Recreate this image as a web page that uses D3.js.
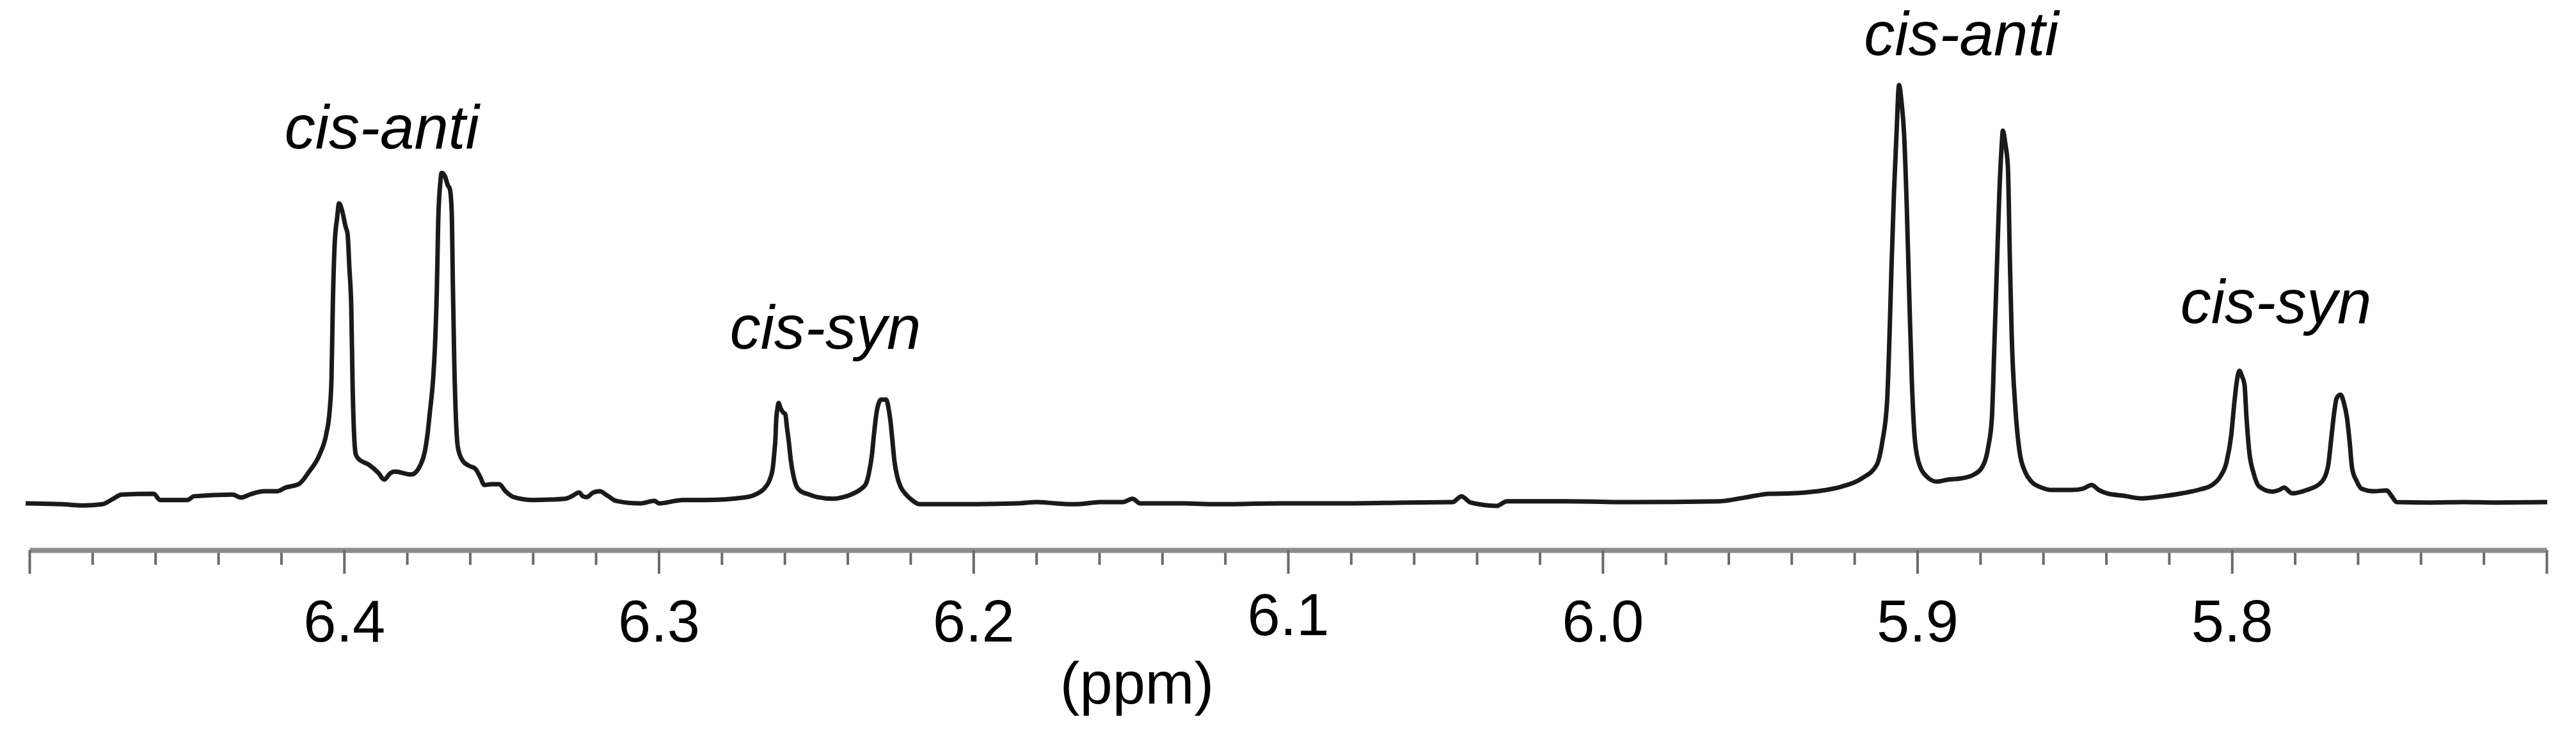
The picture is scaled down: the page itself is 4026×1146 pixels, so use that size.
<!DOCTYPE html>
<html>
<head>
<meta charset="utf-8">
<script src="https://cdn.jsdelivr.net/npm/d3@7"></script>
<style>
  body { margin: 0; background: #fff; }
  svg { display: block; }
</style>
</head>
<body>
<script>
// page size
var width = 4026,
    height = 1146;

// chemical shift (ppm) of each point
var shift = [
  6.5012, 6.4896, 6.4829, 6.4768, 6.4734, 6.4707, 6.4605, 6.4585, 6.4498, 6.4477,
  6.4355, 6.4327, 6.4300, 6.4254, 6.4213, 6.4185, 6.4144, 6.4111, 6.4077, 6.4056,
  6.4046, 6.4040, 6.4036, 6.4030, 6.4022, 6.4016, 6.4006, 6.3995, 6.3989, 6.3983,
  6.3977, 6.3973, 6.3967, 6.3963, 6.3955, 6.3920, 6.3890, 6.3873, 6.3853, 6.3839,
  6.3786, 6.3757, 6.3743, 6.3735, 6.3727, 6.3717, 6.3711, 6.3705, 6.3701, 6.3694,
  6.3690, 6.3680, 6.3670, 6.3664, 6.3658, 6.3654, 6.3650, 6.3644, 6.3638, 6.3623,
  6.3603, 6.3583, 6.3568, 6.3554, 6.3532, 6.3507, 6.3487, 6.3461, 6.3400, 6.3345,
  6.3298, 6.3274, 6.3253, 6.3241, 6.3229, 6.3208, 6.3188, 6.3162, 6.3135, 6.3060,
  6.3013, 6.2999, 6.2924, 6.2857, 6.2720, 6.2688, 6.2663, 6.2647, 6.2637, 6.2633,
  6.2629, 6.2627, 6.2623, 6.2619, 6.2613, 6.2604, 6.2598, 6.2592, 6.2586, 6.2580,
  6.2572, 6.2562, 6.2552, 6.2521, 6.2497, 6.2444, 6.2413, 6.2389, 6.2358, 6.2342,
  6.2332, 6.2322, 6.2316, 6.2307, 6.2299, 6.2293, 6.2277, 6.2269, 6.2263, 6.2257,
  6.2251, 6.2242, 6.2232, 6.2216, 6.2200, 6.2171, 6.2043, 6.1860, 6.1799, 6.1738,
  6.1677, 6.1596, 6.1525, 6.1494, 6.1470, 6.1331, 6.1230, 6.1026, 6.0823, 6.0620,
  6.0477, 6.0449, 6.0420, 6.0337, 6.0304, 6.0111, 5.9908, 5.9629, 5.9548, 5.9469,
  5.9399, 5.9318, 5.9241, 5.9176, 5.9129, 5.9111, 5.9096, 5.9088, 5.9082, 5.9074,
  5.9066, 5.9058, 5.9050, 5.9042, 5.9033, 5.9025, 5.9017, 5.9009, 5.8997, 5.8970,
  5.8938, 5.8901, 5.8858, 5.8820, 5.8796, 5.8775, 5.8763, 5.8755, 5.8747, 5.8739,
  5.8732, 5.8728, 5.8720, 5.8712, 5.8706, 5.8700, 5.8688, 5.8675, 5.8657, 5.8637,
  5.8606, 5.8572, 5.8509, 5.8474, 5.8446, 5.8423, 5.8397, 5.8342, 5.8287, 5.8220,
  5.8159, 5.8098, 5.8063, 5.8037, 5.8017, 5.8002, 5.7992, 5.7984, 5.7976, 5.7968,
  5.7960, 5.7954, 5.7945, 5.7931, 5.7913, 5.7872, 5.7850, 5.7834, 5.7819, 5.7809,
  5.7762, 5.7714, 5.7695, 5.7683, 5.7675, 5.7667, 5.7655, 5.7644, 5.7634, 5.7626,
  5.7618, 5.7604, 5.7588, 5.7549, 5.7508, 5.7492, 5.7476, 5.7366, 5.7264, 5.7162,
  5.6998
];

// signal intensity (tallest peak = 100)
var intensity = [
  0, -0.2, -0.5, -0.2, 1.1, 2.1, 2.3, 0.8, 0.8, 1.7,
  2.1, 1.4, 2.1, 2.9, 2.9, 3.8, 4.6, 7.6, 11.8, 16.8,
  22.0, 29.7, 46.5, 61.8, 68.3, 71.7, 69.9, 66.1, 64.5, 56.1,
  46.5, 28.6, 14.8, 11.8, 10.7, 9.2, 7.2, 5.7, 7.2, 7.6,
  6.9, 9.2, 12.5, 16.4, 22.0, 29.7, 37.8, 51.5, 66.8, 76.8,
  79.0, 78.3, 76.0, 75.2, 69.9, 51.5, 34.7, 19.4, 13.3, 10.2,
  9.0, 8.3, 6.4, 4.4, 4.6, 4.6, 2.9, 1.5, 0.8, 0.9,
  1.1, 1.8, 2.6, 1.7, 1.5, 2.6, 2.9, 1.8, 0.6, 0,
  0.6, 0, 0.8, 0.8, 1.5, 2.3, 3.7, 5.7, 8.7, 11.8,
  15.6, 19.4, 22.5, 24.0, 22.8, 21.7, 21.4, 17.9, 14.4, 10.2,
  6.7, 4.1, 3.1, 2.1, 1.5, 1.1, 1.5, 2.1, 3.4, 4.6,
  7.2, 11.8, 16.4, 22.0, 24.3, 24.8, 24.8, 22.5, 19.4, 14.8,
  10.2, 6.4, 4.1, 2.3, 1.1, -0.2, -0.2, 0, 0.3, 0,
  -0.2, 0.3, 0.3, 1.1, 0, 0, -0.2, 0, 0, 0.2,
  0.3, 1.7, 0.2, -0.6, 0.5, 0.5, 0.3, 0.5, 1.4, 2.3,
  2.4, 2.9, 4.0, 6.0, 9.2, 14.8, 24.3, 40.8, 56.4, 74.5,
  88.4, 100.0, 95.9, 88.4, 69.9, 48.3, 28.6, 16.4, 10.2, 6.4,
  5.2, 5.7, 6.0, 6.9, 8.4, 13.3, 20.3, 37.8, 56.4, 74.5,
  85.2, 89.1, 85.9, 80.4, 59.2, 40.4, 22.5, 12.4, 7.5, 5.2,
  3.8, 3.2, 3.2, 3.5, 4.4, 3.2, 2.4, 1.8, 1.2, 1.7,
  2.4, 3.4, 4.4, 6.4, 9.9, 16.4, 24.3, 29.4, 31.7, 30.4,
  28.4, 20.9, 12.4, 7.2, 4.0, 2.8, 3.2, 3.8, 2.9, 2.4,
  3.2, 5.2, 8.7, 16.4, 21.7, 25.2, 26.0, 24.0, 20.3, 14.8,
  8.4, 5.4, 3.5, 2.9, 3.1, 1.7, 0.3, 0.2, 0.3, 0.2,
  0.3
];

// axis ticks
var majorTicks = [6.5, 6.4, 6.3, 6.2, 6.1, 6.0, 5.9, 5.8, 5.7];
var tickLabels = ["", "6.4", "6.3", "6.2", "6.1", "6.0", "5.9", "5.8", ""];
var minorStep = 0.02;

// peak annotations (placed in ppm / intensity units)
var peakLabels = ["cis-anti", "cis-syn", "cis-anti", "cis-syn"];
var labelShift = [6.388, 6.247, 5.886, 5.786];
var labelHeight = [84.9, 37.0, 107.2, 43.1];

var axisTitle = "(ppm)";
var axisTitleShift = 6.148;

var font = "'Liberation Sans', Arial, Helvetica, sans-serif";

// scales: ppm runs right to left
var x = d3.scaleLinear()
    .domain([6.5, 5.7])
    .range([46, 3980]);

var y = d3.scaleLinear()
    .domain([0, 100])
    .range([787, 133]);

var axisY = 860;

var svg = d3.select('body')
    .append('svg')
    .attr('width', width)
    .attr('height', height);

// the trace
var points = shift.map(function(d, i) { return [d, intensity[i]]; });

var line = d3.line()
    .x(function(d) { return x(d[0]); })
    .y(function(d) { return y(d[1]); })
    .curve(d3.curveMonotoneX);

svg.append('path')
    .datum(points)
    .attr('d', line)
    .attr('fill', 'none')
    .attr('stroke', '#1a1a1a')
    .attr('stroke-width', 7)
    .attr('stroke-linejoin', 'round');

// minor ticks every 0.02 ppm, skipping the labelled ones
var minorTicks = d3.range(0, 41)
    .filter(function(i) { return i % 5 !== 0; })
    .map(function(i) { return +(6.5 - i * minorStep).toFixed(2); });

var minorAxis = d3.axisBottom(x)
    .tickValues(minorTicks)
    .tickSize(23)
    .tickSizeOuter(0)
    .tickFormat('');

var majorAxis = d3.axisBottom(x)
    .tickValues(majorTicks)
    .tickSize(37)
    .tickSizeOuter(0)
    .tickPadding(41)
    .tickFormat(function(d, i) { return tickLabels[i]; });

var gMinor = svg.append('g')
    .attr('transform', 'translate(0,' + axisY + ')')
    .call(minorAxis);

var gMajor = svg.append('g')
    .attr('transform', 'translate(0,' + axisY + ')')
    .call(majorAxis)
    .attr('font-size', 92)
    .attr('font-family', font);

gMinor.select('.domain').remove();
gMajor.select('.domain')
    .attr('stroke', '#8c8c8c')
    .attr('stroke-width', 8);

svg.selectAll('.tick line')
    .attr('stroke', '#6a6a6a')
    .attr('stroke-width', 4);

gMajor.selectAll('.tick text')
    .attr('fill', '#000')
    .attr('y', function(d) { return d === 6.1 ? 68 : 78; });

// axis title
svg.append('text')
    .attr('x', x(axisTitleShift))
    .attr('y', 1100)
    .attr('text-anchor', 'middle')
    .attr('font-family', font)
    .attr('font-size', 92)
    .attr('fill', '#000')
    .text(axisTitle);

// peak labels
svg.selectAll('.peak-label')
    .data(peakLabels)
    .enter().append('text')
    .attr('class', 'peak-label')
    .attr('x', function(d, i) { return x(labelShift[i]); })
    .attr('y', function(d, i) { return y(labelHeight[i]); })
    .attr('text-anchor', 'middle')
    .attr('font-family', font)
    .attr('font-style', 'italic')
    .attr('font-size', 96)
    .attr('fill', '#000')
    .text(function(d) { return d; });
</script>
</body>
</html>
